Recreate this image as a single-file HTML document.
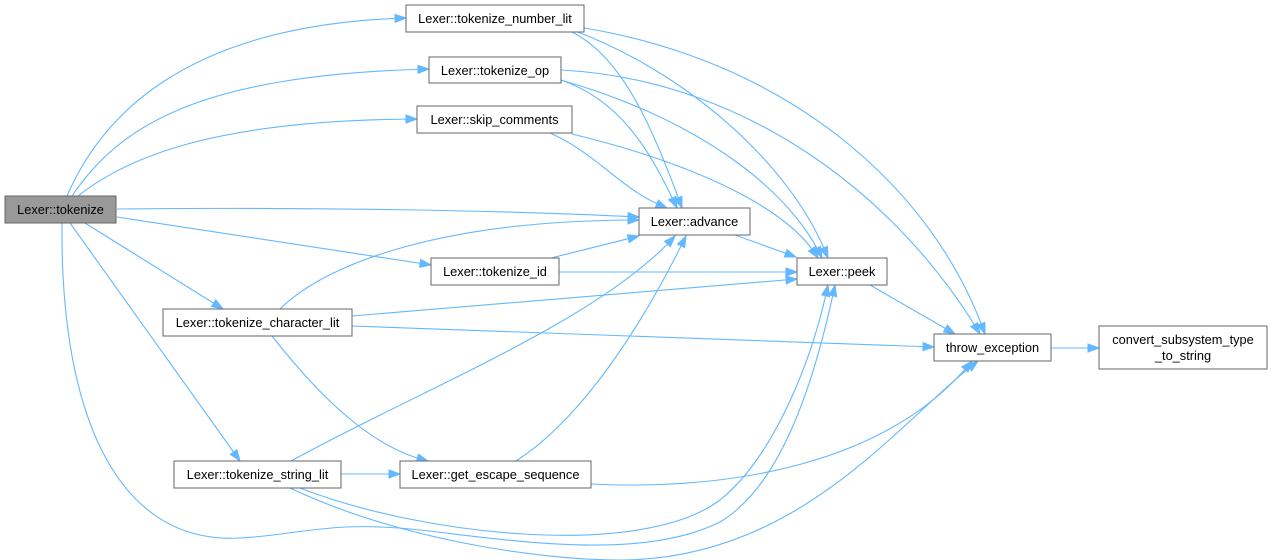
<!DOCTYPE html>
<html><head><meta charset="utf-8"><style>
html,body{margin:0;padding:0;background:#fff;}
svg{display:block;}
text{font-family:"Liberation Sans",Arial,sans-serif;font-size:12.8px;fill:#000;}
</style></head><body>
<svg id="g" width="1272" height="560" viewBox="0 0 1272 560" xmlns="http://www.w3.org/2000/svg">
<g id="edges" fill="none" stroke="#63b8ff" stroke-width="1.1">
<path d="M67,196 C100,120 180,25 406,18"/>
<path d="M72,196 C120,125 200,75 429,69"/>
<path d="M78,196 C130,155 220,120 417,119"/>
<path d="M117,209 C300,207 500,210 639,217"/>
<path d="M117,217 L431,265"/>
<path d="M85,223 L223,309"/>
<path d="M70,223 L240,461"/>
<path d="M62,223 C60,420 120,545 240,538 C300,535 330,520 420,530 C510,540 640,562 720,522 C782,485 815,380 835,285"/>
<path d="M570,31 C620,55 650,120 682,208"/>
<path d="M575,31 C680,70 790,160 828,258"/>
<path d="M584,28 C780,60 930,180 985,334"/>
<path d="M561,80 C620,100 650,150 677,208"/>
<path d="M561,80 C700,120 790,190 822,258"/>
<path d="M561,70 C750,80 900,200 980,334"/>
<path d="M548,132 C600,155 620,190 667,208"/>
<path d="M572,134 C700,165 790,210 818,258"/>
<path d="M735,235 L796,257"/>
<path d="M551,258 L639,236"/>
<path d="M559,272 L797,272"/>
<path d="M280,309 C330,260 450,220 639,220"/>
<path d="M352,316 L797,279"/>
<path d="M352,326 L934,347"/>
<path d="M272,336 C330,410 380,450 428,461"/>
<path d="M291,461 C420,390 600,320 675,236"/>
<path d="M341,474 L400,474"/>
<path d="M300,488 C420,535 640,560 720,500 C770,460 810,370 828,285"/>
<path d="M290,488 C400,540 540,560 620,560 C800,560 900,420 978,361"/>
<path d="M516,461 C580,420 640,330 686,236"/>
<path d="M591,484 C700,490 880,475 972,361"/>
<path d="M870,285 L955,334"/>
<path d="M1051,348 L1099,348"/>
</g>
<g id="heads" fill="#63b8ff" stroke="#63b8ff"></g>
<g stroke="#666" stroke-width="1">
<rect x="5" y="196" width="111" height="27" fill="#999"/>
<rect x="406" y="5" width="178" height="27" fill="#fff"/>
<rect x="429" y="57" width="132" height="26" fill="#fff"/>
<rect x="417" y="106" width="155" height="27" fill="#fff"/>
<rect x="639" y="208" width="111" height="27" fill="#fff"/>
<rect x="431" y="258" width="128" height="27" fill="#fff"/>
<rect x="797" y="258" width="90" height="27" fill="#fff"/>
<rect x="163" y="309" width="189" height="27" fill="#fff"/>
<rect x="934" y="334" width="117" height="27" fill="#fff"/>
<rect x="1099" y="326" width="168" height="43" fill="#fff"/>
<rect x="174" y="461" width="167" height="27" fill="#fff"/>
<rect x="400" y="461" width="191" height="27" fill="#fff"/>
</g>
<g text-anchor="middle">
<text x="60.5" y="214">Lexer::tokenize</text>
<text x="495" y="23">Lexer::tokenize_number_lit</text>
<text x="495" y="75">Lexer::tokenize_op</text>
<text x="494.5" y="124">Lexer::skip_comments</text>
<text x="694.5" y="226">Lexer::advance</text>
<text x="495" y="276">Lexer::tokenize_id</text>
<text x="842" y="276">Lexer::peek</text>
<text x="257.5" y="327">Lexer::tokenize_character_lit</text>
<text x="992.5" y="352">throw_exception</text>
<text x="1183" y="344">convert_subsystem_type</text>
<text x="1183" y="360">_to_string</text>
<text x="257.5" y="479">Lexer::tokenize_string_lit</text>
<text x="495.5" y="479">Lexer::get_escape_sequence</text>
</g>
</svg>
<script>
var paths=document.querySelectorAll('#edges path'),h=document.getElementById('heads'),ns='http://www.w3.org/2000/svg';
paths.forEach(function(p){var L=p.getTotalLength(),e=p.getPointAtLength(L),b=p.getPointAtLength(Math.max(0,L-11));
var dx=e.x-b.x,dy=e.y-b.y,d=Math.hypot(dx,dy)||1;dx/=d;dy/=d;
var bx=e.x-dx*11,by=e.y-dy*11,px=-dy*4,py=dx*4;
var t=document.createElementNS(ns,'polygon');t.setAttribute('points',e.x+','+e.y+' '+(bx+px)+','+(by+py)+' '+(bx-px)+','+(by-py));h.appendChild(t);});
</script>
</body></html>
